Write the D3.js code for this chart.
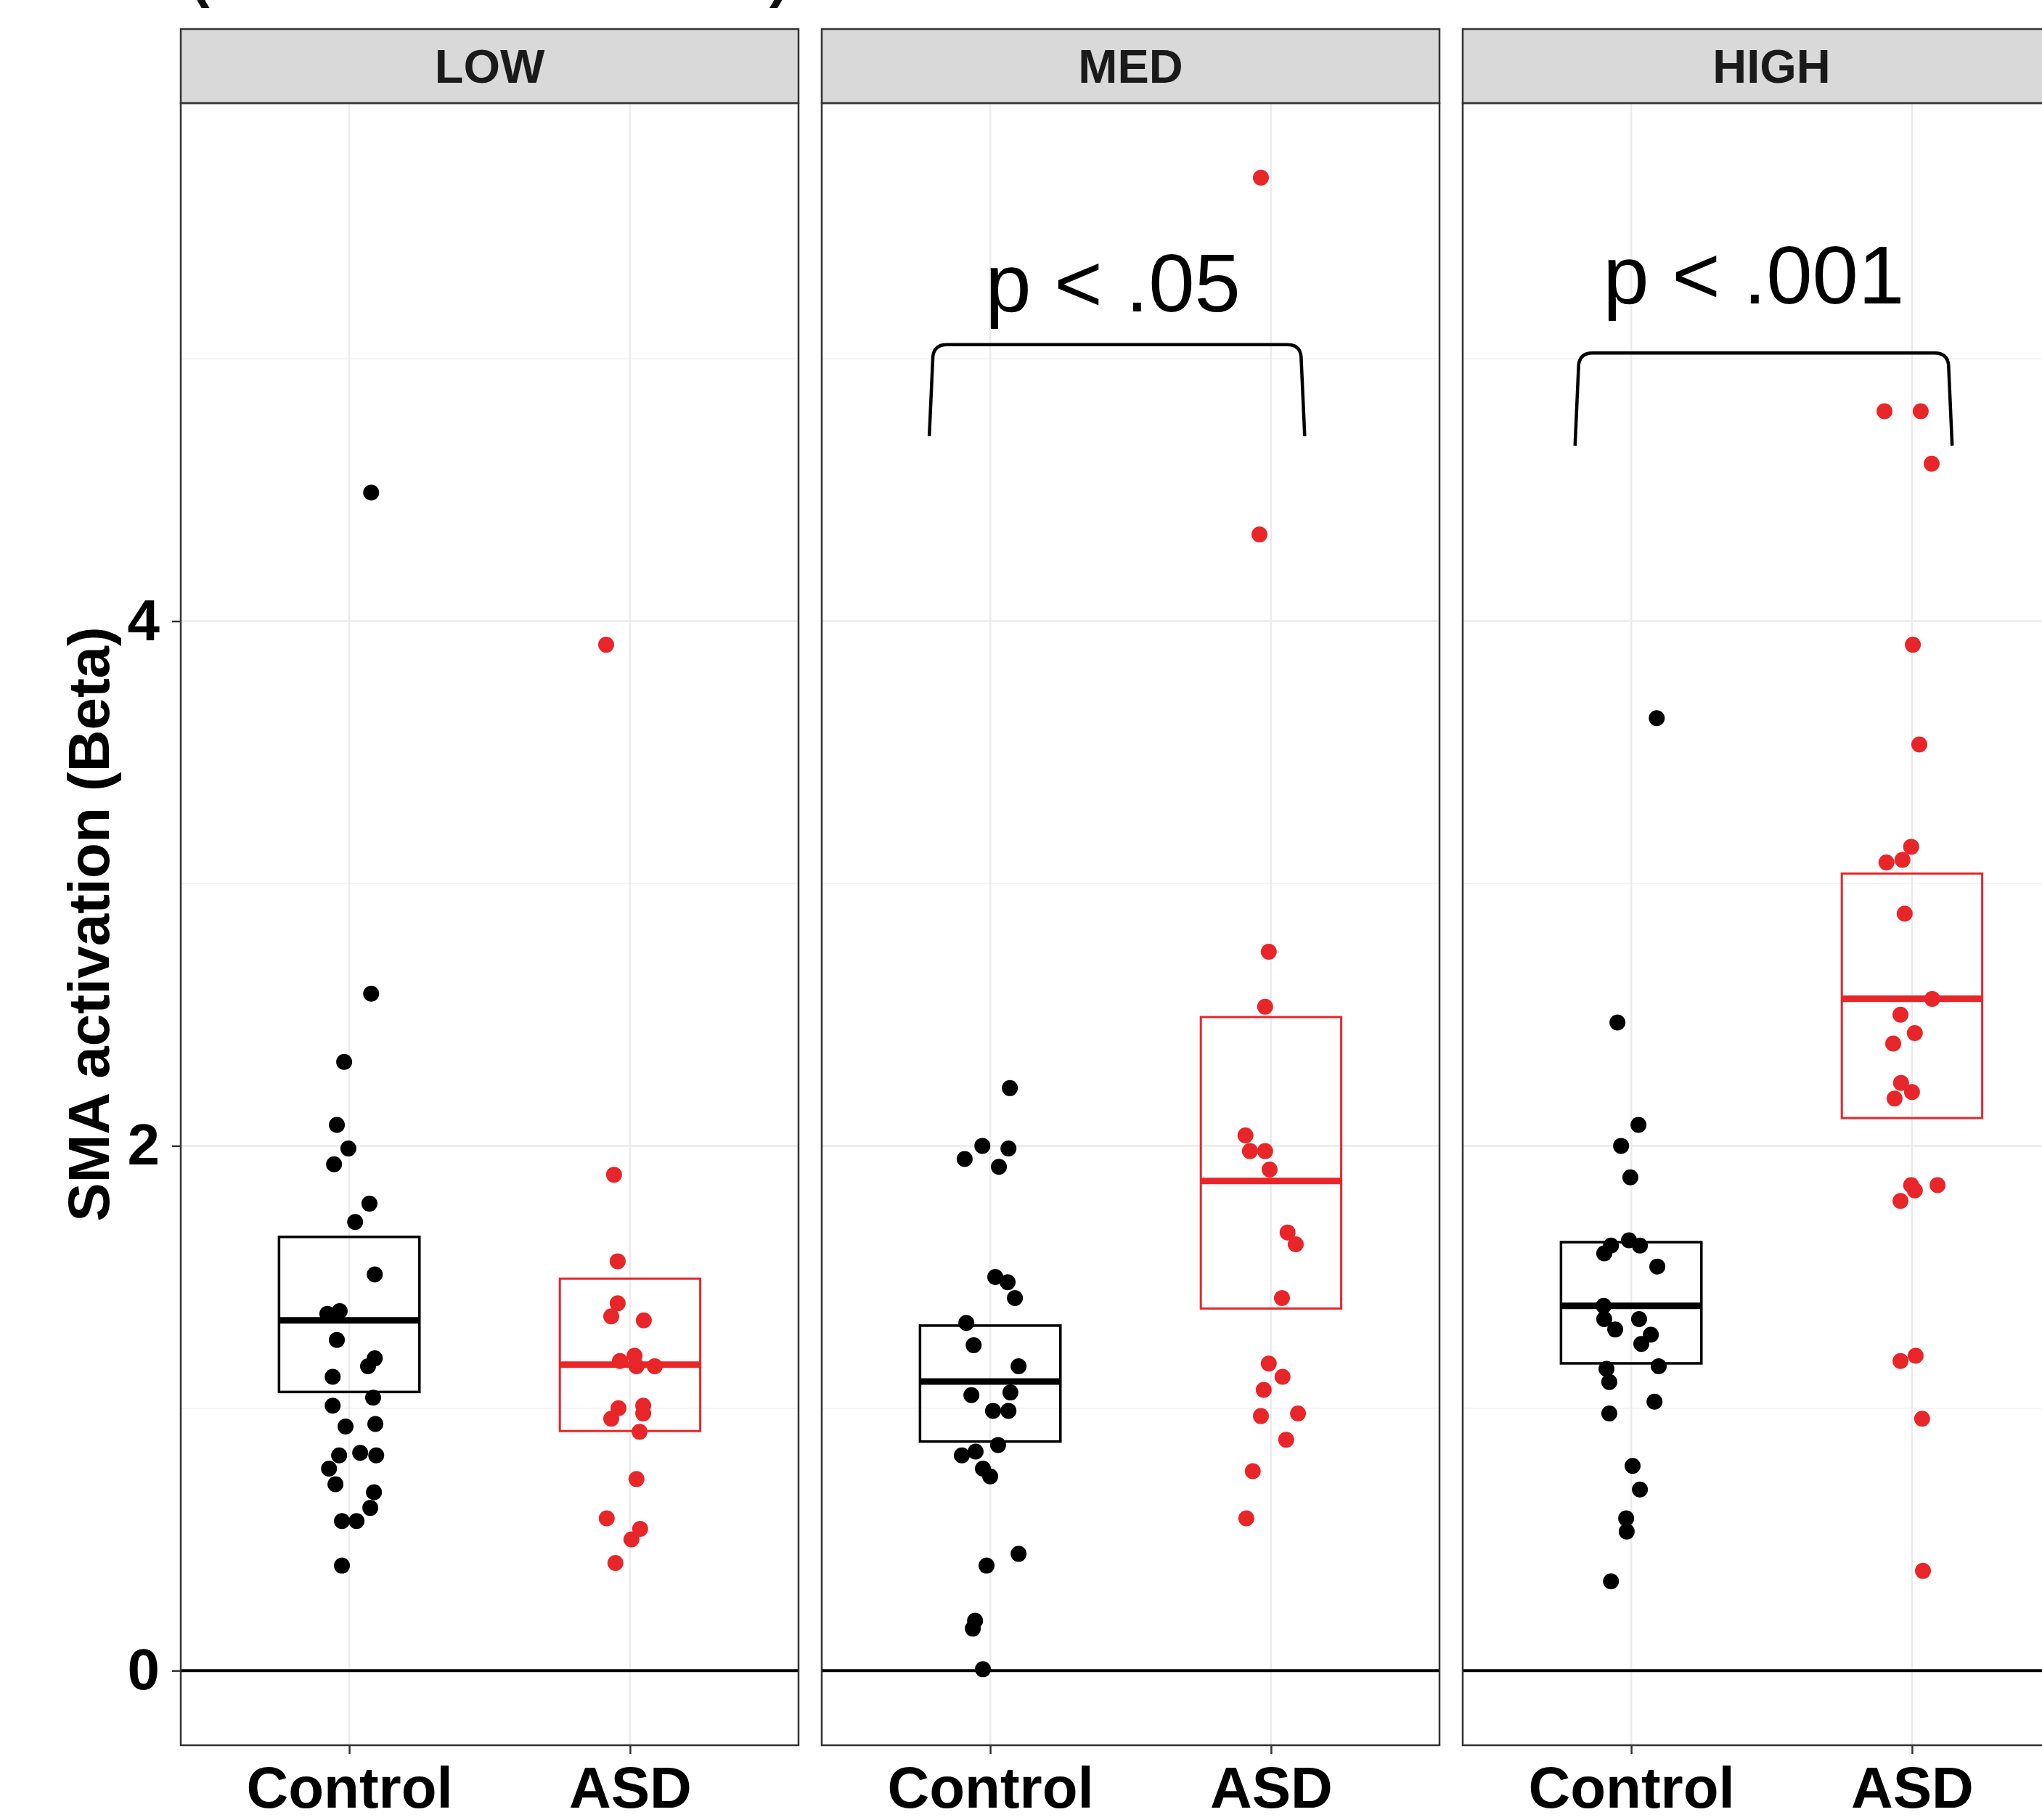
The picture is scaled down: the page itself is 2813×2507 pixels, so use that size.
<!DOCTYPE html>
<html>
<head>
<meta charset="utf-8">
<script src="https://cdn.jsdelivr.net/npm/d3@7"></script>
<style>
  html, body { margin: 0; padding: 0; background: #fff; }
  svg { display: block; }
</style>
</head>
<body>
<svg id="chart" width="2813" height="2507"></svg>
<script>
// ---------------- DATA ----------------
const facets = ["LOW", "MED", "HIGH"];
const groups = ["Control", "ASD"];
const yTicks = [0, 2, 4];
const yMinorTicks = [1, 3, 5];
const yLabel = "SMA activation (Beta)";

// point values (Beta) and horizontal jitter (in category units)
const lowControlValues = [4.49, 2.58, 2.32, 2.08, 1.99, 1.93, 1.78, 1.71, 1.51, 1.36, 1.37, 1.26, 1.19, 1.16, 1.12, 1.04, 1.01, 0.93, 0.94, 0.82, 0.83, 0.82, 0.77, 0.71, 0.68, 0.62, 0.57, 0.57, 0.40];
const lowControlJitter = [0.078, 0.078, -0.018, -0.044, -0.003, -0.054, 0.072, 0.021, 0.091, -0.078, -0.034, -0.044, 0.091, 0.067, -0.059, 0.085, -0.059, -0.013, 0.093, -0.036, 0.039, 0.096, -0.072, -0.049, 0.088, 0.075, -0.026, 0.026, -0.026];
const lowAsdValues = [3.91, 1.89, 1.56, 1.40, 1.35, 1.335, 1.18, 1.20, 1.16, 1.16, 1.00, 0.96, 1.01, 0.98, 0.91, 0.73, 0.58, 0.54, 0.50, 0.41];
const lowAsdJitter = [-0.085, -0.057, -0.044, -0.044, -0.067, 0.049, -0.036, 0.016, 0.023, 0.088, -0.041, -0.067, 0.047, 0.047, 0.034, 0.023, -0.083, 0.036, 0.005, -0.052];
const medControlValues = [2.22, 2.00, 1.99, 1.95, 1.92, 1.50, 1.48, 1.42, 1.325, 1.24, 1.16, 1.05, 1.06, 0.99, 0.99, 0.86, 0.82, 0.835, 0.77, 0.74, 0.445, 0.40, 0.19, 0.16, 0.005];
const medControlJitter = [0.070, -0.028, 0.065, -0.091, 0.031, 0.018, 0.062, 0.088, -0.085, -0.059, 0.101, -0.067, 0.072, 0.010, 0.065, 0.028, -0.101, -0.052, -0.026, 0.0, 0.101, -0.013, -0.054, -0.062, -0.026];
const medAsdValues = [5.69, 4.33, 2.74, 2.53, 2.04, 1.98, 1.98, 1.91, 1.67, 1.625, 1.42, 1.17, 1.12, 1.07, 0.97, 0.98, 0.88, 0.76, 0.58];
const medAsdJitter = [-0.036, -0.041, -0.008, -0.021, -0.091, -0.075, -0.021, -0.005, 0.059, 0.088, 0.039, -0.008, 0.041, -0.026, -0.036, 0.096, 0.054, -0.065, -0.088];
const highControlValues = [3.63, 2.47, 2.08, 2.00, 1.88, 1.62, 1.59, 1.64, 1.62, 1.54, 1.39, 1.34, 1.30, 1.34, 1.28, 1.245, 1.16, 1.15, 1.10, 1.025, 0.98, 0.78, 0.69, 0.58, 0.53, 0.34];
const highControlJitter = [0.091, -0.049, 0.026, -0.036, -0.003, -0.072, -0.096, -0.008, 0.031, 0.093, -0.098, -0.096, -0.057, 0.028, 0.070, 0.036, 0.098, -0.088, -0.078, 0.083, -0.078, 0.005, 0.031, -0.018, -0.016, -0.072];
const highAsdValues = [4.80, 4.80, 4.60, 3.91, 3.53, 3.14, 3.09, 3.08, 2.885, 2.56, 2.50, 2.43, 2.39, 2.24, 2.205, 2.18, 1.85, 1.83, 1.85, 1.79, 1.20, 1.18, 0.96, 0.38];
const highAsdJitter = [-0.098, 0.031, 0.070, 0.003, 0.026, -0.003, -0.034, -0.091, -0.026, 0.072, -0.041, 0.010, -0.067, -0.039, 0.0, -0.062, -0.003, 0.010, 0.091, -0.041, 0.013, -0.041, 0.036, 0.039];

// crossbar summaries, order: LOW-Control, LOW-ASD, MED-Control, MED-ASD, HIGH-Control, HIGH-ASD
const boxLower = [1.062, 0.913, 0.873, 1.380, 1.171, 2.106];
const boxMid   = [1.335, 1.166, 1.102, 1.866, 1.390, 2.561];
const boxUpper = [1.653, 1.494, 1.315, 2.491, 1.633, 3.038];

// significance annotations per facet
const pLabels      = [null, "p < .05", "p < .001"];
const pLabelX      = [null, 1.437, 1.436];
const pLabelY      = [null, 5.18, 5.21];
const bracketLeft  = [null, 0.783, 0.80];
const bracketRight = [null, 2.12, 2.143];
const bracketTop   = [null, 5.054, 5.022];
const bracketBottom= [null, 4.705, 4.669];

const groupColors = ["#000000", "#E8262A"];

// ---------------- LAYOUT ----------------
const svg = d3.select("#chart");
svg.append("rect").attr("width", 2813).attr("height", 2507).attr("fill", "#fff");

const panelTop = 142, panelBottom = 2404, stripTop = 40;
const panelLefts = [249, 1132, 2015];
const panelWidth = 851;

const y = d3.scaleLinear().domain([-0.2845, 5.9745]).range([panelBottom, panelTop]);

const pointData = [
  [[lowControlValues, lowControlJitter], [lowAsdValues, lowAsdJitter]],
  [[medControlValues, medControlJitter], [medAsdValues, medAsdJitter]],
  [[highControlValues, highControlJitter], [highAsdValues, highAsdJitter]]
];

// faint remains of a clipped title at the top (the reference shows only these bottoms)
svg.append("text").attr("x", 262).attr("y", -6).attr("font-family", "Liberation Sans, Arial, sans-serif")
  .attr("font-weight", "bold").attr("font-size", 80).attr("fill", "#111").text("(");
svg.append("text").attr("x", 1060).attr("y", -6).attr("font-family", "Liberation Sans, Arial, sans-serif")
  .attr("font-weight", "bold").attr("font-size", 80).attr("fill", "#111").text(")");

facets.forEach((facet, fi) => {
  const left = panelLefts[fi];
  const x = d3.scalePoint().domain(groups).range([left, left + panelWidth]).padding(0.6);
  const step = x.step();
  const g = svg.append("g");

  g.append("rect").attr("x", left).attr("y", panelTop).attr("width", panelWidth)
    .attr("height", panelBottom - panelTop).attr("fill", "#fff");

  g.selectAll(".minor").data(yMinorTicks).enter().append("line")
    .attr("x1", left).attr("x2", left + panelWidth)
    .attr("y1", d => y(d)).attr("y2", d => y(d))
    .attr("stroke", "#F2F2F2").attr("stroke-width", 1.5);
  g.selectAll(".major").data(yTicks).enter().append("line")
    .attr("x1", left).attr("x2", left + panelWidth)
    .attr("y1", d => y(d)).attr("y2", d => y(d))
    .attr("stroke", "#EBEBEB").attr("stroke-width", 2.5);
  g.selectAll(".vgrid").data(groups).enter().append("line")
    .attr("x1", d => x(d)).attr("x2", d => x(d))
    .attr("y1", panelTop).attr("y2", panelBottom)
    .attr("stroke", "#EBEBEB").attr("stroke-width", 2.5);

  g.append("line").attr("x1", left).attr("x2", left + panelWidth)
    .attr("y1", y(0)).attr("y2", y(0)).attr("stroke", "#000").attr("stroke-width", 4);

  groups.forEach((grp, gi) => {
    const [vals, jit] = pointData[fi][gi];
    g.selectAll(null).data(vals).enter().append("circle")
      .attr("cx", (d, i) => x(grp) + jit[i] * step)
      .attr("cy", d => y(d))
      .attr("r", 11)
      .attr("fill", groupColors[gi]);
  });

  groups.forEach((grp, gi) => {
    const k = fi * 2 + gi;
    const bw = 0.5 * step;
    const col = groupColors[gi];
    g.append("rect")
      .attr("x", x(grp) - bw / 2).attr("y", y(boxUpper[k]))
      .attr("width", bw).attr("height", y(boxLower[k]) - y(boxUpper[k]))
      .attr("fill", "none").attr("stroke", col).attr("stroke-width", gi === 0 ? 3.5 : 3);
    g.append("line")
      .attr("x1", x(grp) - bw / 2).attr("x2", x(grp) + bw / 2)
      .attr("y1", y(boxMid[k])).attr("y2", y(boxMid[k]))
      .attr("stroke", col).attr("stroke-width", 9);
  });

  if (pLabels[fi]) {
    const xl = left + (bracketLeft[fi] - 0.4) * step;
    const xr = left + (bracketRight[fi] - 0.4) * step;
    const yt = y(bracketTop[fi]);
    const yb = y(bracketBottom[fi]);
    const path = d3.path();
    path.moveTo(xl, yb);
    path.lineTo(xl + 5, yt + 16);
    path.quadraticCurveTo(xl + 7, yt, xl + 24, yt);
    path.lineTo(xr - 24, yt);
    path.quadraticCurveTo(xr - 7, yt, xr - 5, yt + 16);
    path.lineTo(xr, yb);
    g.append("path").attr("d", path.toString()).attr("fill", "none")
      .attr("stroke", "#000").attr("stroke-width", 4.5);
    g.append("text")
      .attr("x", left + (pLabelX[fi] - 0.4) * step)
      .attr("y", y(pLabelY[fi]))
      .attr("text-anchor", "middle")
      .attr("font-family", "Liberation Sans, Arial, sans-serif")
      .attr("font-size", 114)
      .attr("fill", "#000")
      .text(pLabels[fi]);
  }

  g.append("rect").attr("x", left).attr("y", panelTop).attr("width", panelWidth)
    .attr("height", panelBottom - panelTop).attr("fill", "none")
    .attr("stroke", "#333").attr("stroke-width", 2.5);

  g.append("rect").attr("x", left).attr("y", stripTop).attr("width", panelWidth)
    .attr("height", panelTop - stripTop).attr("fill", "#D9D9D9")
    .attr("stroke", "#333").attr("stroke-width", 2.5);
  g.append("text")
    .attr("x", left + panelWidth / 2).attr("y", (stripTop + panelTop) / 2)
    .attr("dy", "0.36em").attr("text-anchor", "middle")
    .attr("font-family", "Liberation Sans, Arial, sans-serif")
    .attr("font-weight", "bold").attr("font-size", 65).attr("fill", "#1A1A1A")
    .text(facet);

  const xAxis = g.append("g").attr("transform", `translate(0,${panelBottom})`)
    .call(d3.axisBottom(x).tickSize(12).tickPadding(17));
  xAxis.select(".domain").remove();
  xAxis.selectAll(".tick line").attr("stroke", "#333").attr("stroke-width", 2.5);
  xAxis.selectAll(".tick text").attr("font-family", "Liberation Sans, Arial, sans-serif")
    .attr("font-weight", "bold").attr("font-size", 80).attr("fill", "#000");

  if (fi === 0) {
    const yAxis = g.append("g").attr("transform", `translate(${left},0)`)
      .call(d3.axisLeft(y).tickValues(yTicks).tickFormat(d3.format("d")).tickSize(12).tickPadding(17));
    yAxis.select(".domain").remove();
    yAxis.selectAll(".tick line").attr("stroke", "#333").attr("stroke-width", 2.5);
    yAxis.selectAll(".tick text").attr("font-family", "Liberation Sans, Arial, sans-serif")
      .attr("font-weight", "bold").attr("font-size", 80).attr("fill", "#000");
  }
});

svg.append("text")
  .attr("transform", `translate(150, ${(panelTop + panelBottom) / 2}) rotate(-90)`)
  .attr("text-anchor", "middle")
  .attr("font-family", "Liberation Sans, Arial, sans-serif")
  .attr("font-weight", "bold").attr("font-size", 80).attr("fill", "#000")
  .text(yLabel);
</script>
</body>
</html>
